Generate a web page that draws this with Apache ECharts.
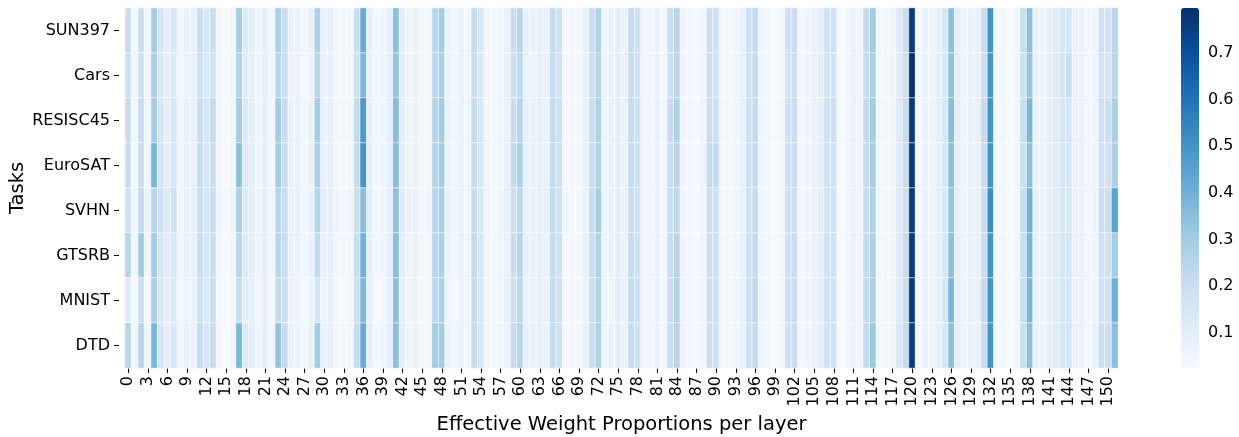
<!DOCTYPE html>
<html>
<head>
<meta charset="utf-8">
<script src="https://cdn.jsdelivr.net/npm/echarts@6/dist/echarts.min.js"></script>
<style>
html,body{margin:0;padding:0;background:#fff;}
#chart{width:1239px;height:437px;}
</style>
</head>
<body>
<div id="chart"></div>
<script>
const tasks = ["SUN397","Cars","RESISC45","EuroSAT","SVHN","GTSRB","MNIST","DTD"];
const layers = [];
for (let i = 0; i < 152; i++) layers.push(String(i));
const colorbarTicks = [0.1,0.2,0.3,0.4,0.5,0.6,0.7];

const SUN397 = [
.20,.05,.20,.06,.30,.15,.10,.14,.05,.08,
.08,.20,.15,.20,.05,.03,.05,.30,.12,.10,
.06,.10,.05,.28,.20,.08,.08,.05,.08,.28,
.08,.10,.05,.05,.05,.20,.42,.10,.05,.06,
.10,.35,.10,.07,.08,.05,.05,.25,.30,.07,
.05,.08,.06,.22,.14,.05,.04,.06,.08,.20,
.25,.08,.08,.10,.08,.22,.18,.05,.04,.05,
.08,.20,.27,.06,.08,.10,.08,.22,.18,.05,
.06,.08,.05,.20,.25,.06,.05,.04,.06,.20,
.18,.04,.05,.06,.08,.18,.22,.06,.05,.04,
.05,.18,.20,.05,.06,.08,.10,.18,.18,.04,
.05,.08,.06,.22,.30,.05,.05,.06,.12,.20,
.76,.04,.08,.06,.10,.14,.35,.10,.06,.08,
.08,.20,.50,.05,.05,.03,.05,.20,.35,.08,
.07,.10,.12,.15,.15,.08,.08,.05,.06,.18,
.18,.25];
const Cars = [
.18,.05,.18,.06,.28,.14,.09,.13,.05,.07,
.08,.18,.14,.18,.05,.03,.05,.27,.11,.09,
.06,.09,.05,.25,.20,.07,.08,.05,.07,.25,
.08,.09,.05,.05,.05,.18,.38,.09,.05,.06,
.09,.33,.10,.07,.08,.05,.05,.24,.28,.07,
.05,.08,.06,.20,.13,.05,.04,.06,.08,.19,
.23,.08,.07,.10,.08,.20,.17,.05,.04,.05,
.08,.19,.25,.06,.08,.10,.08,.21,.17,.05,
.06,.08,.05,.19,.24,.06,.05,.04,.06,.19,
.17,.04,.05,.06,.08,.17,.21,.06,.05,.04,
.05,.17,.19,.05,.06,.08,.10,.17,.17,.04,
.05,.08,.06,.21,.28,.05,.05,.06,.11,.19,
.79,.04,.08,.06,.10,.13,.34,.10,.06,.08,
.08,.19,.49,.05,.05,.03,.05,.19,.33,.08,
.07,.10,.12,.16,.20,.08,.08,.05,.06,.17,
.15,.25];
const RESISC45 = [
.20,.05,.21,.06,.30,.15,.10,.14,.05,.08,
.08,.20,.15,.22,.05,.03,.05,.30,.12,.10,
.06,.10,.05,.30,.21,.08,.08,.05,.08,.30,
.08,.10,.05,.05,.05,.22,.48,.10,.05,.06,
.10,.36,.10,.07,.08,.05,.05,.26,.30,.07,
.05,.08,.06,.22,.14,.05,.04,.06,.08,.20,
.25,.08,.08,.10,.08,.22,.19,.05,.04,.05,
.08,.20,.27,.06,.08,.10,.08,.22,.18,.05,
.06,.08,.05,.21,.27,.06,.05,.04,.06,.20,
.19,.04,.05,.06,.08,.18,.22,.06,.05,.04,
.05,.18,.20,.05,.06,.08,.10,.18,.19,.04,
.05,.08,.06,.22,.30,.05,.05,.06,.12,.21,
.77,.04,.08,.06,.10,.14,.36,.10,.06,.08,
.08,.21,.50,.05,.05,.03,.05,.20,.38,.08,
.07,.10,.12,.15,.15,.08,.08,.05,.06,.18,
.19,.28];
const EuroSAT = [
.21,.05,.20,.06,.38,.15,.10,.14,.05,.08,
.08,.21,.15,.20,.05,.03,.05,.35,.12,.10,
.06,.10,.05,.30,.20,.08,.08,.05,.08,.28,
.08,.10,.05,.05,.05,.21,.50,.10,.05,.06,
.10,.36,.10,.07,.08,.05,.05,.26,.30,.07,
.05,.08,.06,.22,.14,.05,.04,.06,.08,.22,
.28,.08,.08,.10,.08,.22,.18,.05,.04,.05,
.08,.20,.27,.06,.08,.10,.08,.22,.18,.05,
.06,.08,.05,.20,.25,.06,.05,.04,.06,.22,
.22,.04,.05,.06,.08,.18,.22,.06,.05,.04,
.05,.18,.20,.05,.06,.08,.10,.18,.18,.04,
.05,.08,.06,.22,.29,.05,.05,.06,.12,.20,
.77,.04,.08,.06,.10,.14,.35,.10,.06,.08,
.08,.20,.50,.05,.05,.03,.05,.20,.35,.08,
.07,.10,.12,.15,.15,.08,.08,.05,.06,.18,
.18,.28];
const SVHN = [
.18,.06,.22,.07,.25,.18,.12,.18,.06,.08,
.09,.20,.16,.20,.06,.04,.06,.28,.12,.10,
.07,.10,.05,.25,.20,.08,.09,.05,.08,.25,
.09,.10,.06,.05,.06,.20,.35,.11,.05,.06,
.10,.34,.11,.08,.08,.05,.06,.25,.28,.08,
.06,.08,.06,.21,.14,.06,.04,.06,.09,.19,
.24,.08,.08,.10,.09,.21,.18,.06,.04,.05,
.08,.21,.30,.06,.08,.10,.08,.21,.18,.05,
.06,.08,.05,.20,.23,.06,.05,.04,.06,.19,
.18,.04,.05,.06,.08,.17,.21,.06,.05,.04,
.05,.18,.19,.05,.06,.08,.10,.17,.18,.04,
.05,.08,.06,.21,.27,.05,.05,.06,.12,.19,
.76,.04,.08,.06,.10,.14,.33,.10,.06,.08,
.08,.20,.52,.05,.05,.03,.05,.21,.40,.08,
.07,.10,.12,.15,.14,.08,.08,.05,.07,.20,
.20,.45];
const GTSRB = [
.25,.05,.30,.06,.30,.15,.11,.14,.05,.08,
.08,.20,.15,.20,.05,.03,.05,.25,.12,.10,
.06,.10,.05,.25,.20,.08,.08,.05,.08,.22,
.08,.10,.05,.05,.05,.20,.40,.10,.05,.06,
.10,.35,.10,.07,.08,.05,.05,.25,.28,.07,
.05,.08,.06,.22,.14,.05,.04,.06,.08,.20,
.25,.08,.08,.10,.08,.22,.18,.05,.04,.05,
.08,.20,.27,.06,.08,.10,.08,.22,.18,.05,
.06,.08,.05,.20,.25,.06,.05,.04,.06,.20,
.18,.04,.05,.06,.08,.18,.22,.06,.05,.04,
.05,.18,.20,.05,.06,.08,.10,.18,.18,.04,
.05,.08,.06,.22,.28,.05,.05,.06,.12,.20,
.76,.04,.08,.06,.10,.14,.35,.10,.06,.08,
.08,.20,.50,.05,.05,.03,.05,.20,.38,.08,
.07,.10,.12,.15,.15,.08,.08,.05,.06,.18,
.18,.30];
const MNIST = [
.12,.04,.20,.05,.28,.14,.09,.13,.04,.07,
.07,.18,.14,.20,.04,.03,.04,.20,.10,.09,
.05,.09,.04,.22,.19,.07,.07,.04,.07,.15,
.07,.09,.05,.04,.05,.19,.38,.09,.04,.05,
.09,.35,.09,.06,.07,.05,.05,.24,.28,.06,
.05,.07,.06,.21,.14,.05,.04,.05,.08,.19,
.24,.07,.08,.09,.08,.21,.18,.05,.04,.05,
.07,.19,.26,.06,.07,.10,.08,.22,.18,.05,
.06,.08,.05,.20,.26,.06,.05,.04,.06,.19,
.18,.04,.05,.06,.08,.18,.23,.06,.05,.04,
.05,.18,.20,.05,.06,.08,.10,.18,.18,.04,
.05,.08,.06,.22,.28,.05,.05,.06,.12,.20,
.77,.04,.08,.06,.10,.14,.38,.10,.06,.08,
.08,.21,.50,.05,.05,.03,.05,.20,.38,.08,
.07,.10,.12,.15,.15,.08,.08,.05,.06,.18,
.18,.40];
const DTD = [
.25,.05,.25,.06,.38,.15,.10,.14,.05,.08,
.08,.22,.15,.21,.05,.03,.05,.38,.12,.10,
.06,.10,.05,.33,.21,.08,.08,.05,.08,.30,
.08,.10,.05,.05,.05,.21,.42,.10,.05,.06,
.10,.35,.10,.07,.08,.05,.05,.30,.30,.07,
.05,.08,.06,.22,.14,.05,.04,.06,.08,.21,
.25,.08,.08,.10,.08,.22,.18,.05,.04,.05,
.08,.20,.27,.06,.08,.10,.08,.22,.18,.05,
.06,.08,.05,.20,.25,.06,.05,.04,.06,.20,
.18,.04,.05,.06,.08,.18,.22,.06,.05,.04,
.05,.18,.20,.05,.06,.08,.10,.18,.18,.04,
.05,.08,.06,.22,.32,.05,.05,.06,.14,.22,
.76,.04,.08,.06,.10,.14,.35,.10,.06,.08,
.08,.20,.50,.05,.05,.03,.05,.20,.35,.08,
.07,.10,.12,.15,.15,.08,.08,.05,.08,.20,
.20,.35];

const rows = [SUN397, Cars, RESISC45, EuroSAT, SVHN, GTSRB, MNIST, DTD];
const cells = [];
rows.forEach((row, r) => row.forEach((v, c) => cells.push([c, r, v])));

const FONT = "DejaVu Sans";
const chart = echarts.init(document.getElementById('chart'), null, {renderer: 'canvas'});
chart.setOption({
  animation: false,
  backgroundColor: '#fff',
  textStyle: {fontFamily: FONT, color: '#000'},
  grid: [
    {left: 125, top: 8, width: 993, height: 360, outerBoundsMode: 'none', containLabel: false},
    {left: 1181, top: 8, width: 18, height: 360, outerBoundsMode: 'none', containLabel: false}
  ],
  xAxis: [
    {
      type: 'category', gridIndex: 0, data: layers,
      name: 'Effective Weight Proportions per layer',
      nameLocation: 'middle', nameGap: 47,
      nameTextStyle: {fontFamily: FONT, fontSize: 19.5, color: '#000'},
      axisLine: {show: false},
      axisTick: {show: true, interval: 2, alignWithLabel: true, length: 5, lineStyle: {color: '#000', width: 1}},
      axisLabel: {interval: 2, rotate: 90, fontFamily: FONT, fontSize: 16, color: '#000', margin: 8},
      splitLine: {show: false}
    },
    {type: 'value', gridIndex: 1, show: false, min: 0, max: 1}
  ],
  yAxis: [
    {
      type: 'category', gridIndex: 0, data: tasks, inverse: true, offset: 6,
      name: 'Tasks', nameLocation: 'middle', nameGap: 91, nameMoveOverlap: false,
      nameTextStyle: {fontFamily: FONT, fontSize: 19.5, color: '#000'},
      axisLine: {show: false},
      axisTick: {show: true, alignWithLabel: true, length: 5, lineStyle: {color: '#000', width: 1}},
      axisLabel: {fontFamily: FONT, fontSize: 16, color: '#000', margin: 9},
      splitLine: {show: false}
    },
    {
      type: 'value', gridIndex: 1, min: 0.025, max: 0.796, position: 'right',
      axisLine: {show: false},
      axisTick: {show: true, length: 5, customValues: colorbarTicks, lineStyle: {color: '#000', width: 1}},
      axisLabel: {show: true, customValues: colorbarTicks, fontFamily: FONT, fontSize: 16, color: '#000', margin: 9,
        formatter: v => v.toFixed(1)},
      splitLine: {show: false}
    }
  ],
  visualMap: {
    type: 'continuous', seriesIndex: 0, min: 0.025, max: 0.796,
    calculable: false, show: true, orient: 'vertical',
    left: 1181, top: 8, itemWidth: 18, itemHeight: 360, padding: 0,
    text: null, showLabel: false,
    inRange: {color: ['#f7fbff','#deebf7','#c6dbef','#9ecae1','#6baed6','#4292c6','#2171b5','#08519c','#08306b']}
  },
  series: [
    {
      type: 'heatmap', xAxisIndex: 0, yAxisIndex: 0, data: cells,
      itemStyle: {borderColor: '#ffffff', borderWidth: 0.6},
      emphasis: {disabled: true}
    },
    {type: 'scatter', xAxisIndex: 1, yAxisIndex: 1, data: [], silent: true}
  ]
});
</script>
</body>
</html>
